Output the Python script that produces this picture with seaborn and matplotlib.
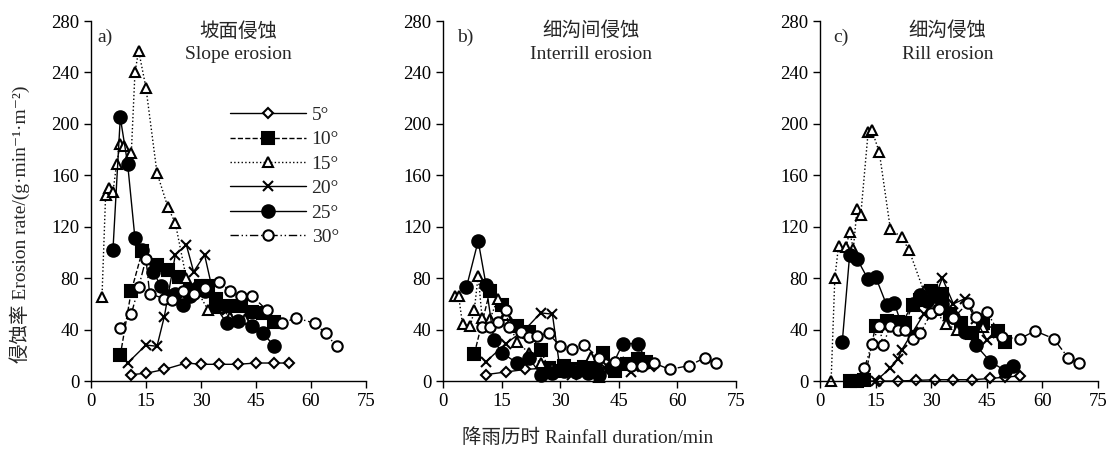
import seaborn as sns
import matplotlib
matplotlib.use("Agg")
import matplotlib.pyplot as plt

# slope gradients (legend labels)
slopes = ["5°", "10°", "15°", "20°", "25°", "30°"]

# a) slope erosion
a_t05 = [11, 15, 20, 26, 30, 35, 40, 45, 50, 54]
a_v05 = [5, 6, 9, 14, 13, 13, 13, 14, 14, 14]
a_t10 = [8, 11, 14, 18, 21, 24, 27, 30, 32, 34, 37, 41, 44, 47, 50]
a_v10 = [20, 70, 101, 90, 86, 81, 70, 74, 74, 64, 58, 58, 54, 53, 46]
a_t15 = [3, 4, 5, 6, 7, 8, 9, 11, 12, 13, 15, 18, 21, 23, 26, 29, 32, 35, 38, 42]
a_v15 = [65, 145, 150, 147, 169, 184, 183, 177, 240, 257, 228, 162, 135, 123, 80, 70, 55, 57, 50, 48]
a_t20 = [10, 15, 18, 20, 23, 26, 28, 31, 34, 37]
a_v20 = [14, 28, 27, 50, 98, 106, 85, 98, 60, 55]
a_t25 = [6, 8, 10, 12, 14, 17, 19, 21, 23, 25, 27, 29, 31, 34, 37, 40, 44, 47, 50]
a_v25 = [102, 205, 169, 111, 102, 85, 74, 66, 68, 59, 66, 72, 70, 58, 45, 47, 43, 37, 27]
a_t30 = [8, 11, 13, 15, 16, 20, 22, 25, 28, 31, 35, 38, 41, 44, 48, 52, 56, 61, 64, 67]
a_v30 = [41, 52, 73, 95, 68, 64, 63, 70, 68, 72, 77, 70, 66, 66, 55, 45, 49, 45, 37, 27]

# b) interrill erosion
b_t05 = [11, 16, 21, 26, 30, 35, 40, 45, 50, 54]
b_v05 = [5, 7, 9, 10, 10, 10, 11, 12, 12, 12]
b_t10 = [8, 12, 15, 19, 22, 25, 27, 29, 31, 33, 36, 39, 41, 44, 47, 50, 52]
b_v10 = [21, 70, 59, 43, 38, 24, 10, 8, 12, 9, 11, 13, 22, 8, 13, 17, 15]
b_t15 = [3, 4, 5, 7, 8, 9, 10, 12, 14, 16, 19, 22, 25, 28, 31, 34, 38, 40]
b_v15 = [66, 66, 44, 43, 55, 82, 49, 48, 64, 51, 30, 22, 14, 10, 8, 10, 19, 3]
b_t20 = [11, 16, 21, 25, 28, 30, 33, 36, 39, 42, 45, 48]
b_v20 = [15, 29, 40, 53, 52, 8, 5, 10, 8, 12, 15, 7]
b_t25 = [6, 9, 11, 13, 15, 19, 22, 25, 28, 31, 34, 37, 40, 43, 46, 50, 52]
b_v25 = [73, 109, 75, 32, 22, 14, 18, 5, 6, 8, 7, 6, 5, 10, 29, 29, 15]
b_t30 = [10, 12, 14, 16, 17, 20, 22, 24, 27, 30, 33, 36, 40, 44, 48, 51, 54, 58, 63, 67, 70]
b_v30 = [42, 42, 46, 55, 42, 38, 34, 35, 37, 27, 25, 28, 18, 15, 12, 12, 14, 9, 12, 18, 14]

# c) rill erosion
c_t05 = [11, 16, 21, 26, 31, 36, 41, 46, 50, 54]
c_v05 = [0, 0, 0, 0.5, 1, 1, 1, 2, 3, 4]
c_t10 = [8, 10, 12, 15, 18, 21, 23, 25, 27, 30, 33, 35, 38, 41, 44, 48, 50]
c_v10 = [0, 0, 1, 43, 47, 46, 45, 59, 63, 70, 68, 52, 45, 37, 45, 39, 30]
c_t15 = [3, 4, 5, 7, 8, 9, 10, 11, 13, 14, 16, 19, 22, 24, 28, 31, 34, 37, 40, 44]
c_v15 = [0, 80, 105, 104, 116, 103, 134, 129, 194, 195, 178, 118, 112, 102, 70, 55, 44, 40, 38, 42]
c_t20 = [15, 19, 21, 22, 25, 28, 31, 33, 36, 39, 42, 45, 48]
c_v20 = [0, 10, 17, 24, 38, 52, 65, 80, 60, 64, 48, 32, 37]
c_t25 = [6, 8, 10, 13, 15, 18, 20, 22, 25, 27, 29, 31, 33, 36, 39, 42, 46, 50, 52]
c_v25 = [30, 98, 95, 79, 81, 59, 61, 44, 60, 67, 62, 66, 60, 50, 38, 28, 15, 8, 12]
c_t30 = [12, 14, 16, 17, 19, 21, 23, 25, 27, 30, 32, 36, 40, 42, 45, 49, 54, 58, 63, 67, 70]
c_v30 = [10, 29, 43, 28, 43, 40, 40, 33, 37, 53, 56, 49, 61, 50, 54, 34, 33, 39, 33, 18, 14]

panels = [
    ("a)", "坡面侵蚀", "Slope erosion",
     [(a_t05, a_v05), (a_t10, a_v10), (a_t15, a_v15), (a_t20, a_v20), (a_t25, a_v25), (a_t30, a_v30)]),
    ("b)", "细沟间侵蚀", "Interrill erosion",
     [(b_t05, b_v05), (b_t10, b_v10), (b_t15, b_v15), (b_t20, b_v20), (b_t25, b_v25), (b_t30, b_v30)]),
    ("c)", "细沟侵蚀", "Rill erosion",
     [(c_t05, c_v05), (c_t10, c_v10), (c_t15, c_v15), (c_t20, c_v20), (c_t25, c_v25), (c_t30, c_v30)]),
]

sns.set_theme(style="ticks")
plt.rcParams['font.family'] = ['Liberation Serif', 'Noto Sans CJK SC', 'DejaVu Sans']

styles = [
    dict(marker='D', markersize=5, markerfacecolor='white', linestyle='-'),
    dict(marker='s', markersize=8, markerfacecolor='black', linestyle='--'),
    dict(marker='^', markersize=7, markerfacecolor='white', linestyle=':'),
    dict(marker='x', markersize=7.5, linestyle='-'),
    dict(marker='o', markersize=9, markerfacecolor='black', linestyle='-'),
    dict(marker='o', markersize=7.5, markerfacecolor='white', linestyle=(0, (6, 2, 1, 2, 1, 2))),
]

fig = plt.figure(figsize=(11.12, 4.49), dpi=100)
boxes = [(0.0818, 0.2473), (0.3984, 0.2635), (0.7374, 0.25)]
title_x = [0.535, 0.504, 0.459]
tag_x = [0.025, 0.048, 0.047]

for i, (tag, zh, en, series) in enumerate(panels):
    left, width = boxes[i]
    ax = fig.add_axes([left, 0.1514, width, 0.8018])
    for (t, v), lab, st in zip(series, slopes, styles):
        sns.lineplot(x=t, y=v, ax=ax, color='black', linewidth=1,
                     markeredgecolor='black', markeredgewidth=1.5,
                     sort=False, estimator=None, label=lab, clip_on=False, **st)
    ax.set_xlim(0, 75)
    ax.set_ylim(0, 280)
    ax.set_xticks(range(0, 76, 15))
    ax.set_yticks(range(0, 281, 40))
    ax.tick_params(labelsize=13.5, direction='out', length=5, width=1, colors='black')
    for s in ['left', 'bottom']:
        ax.spines[s].set_color('black')
        ax.spines[s].set_linewidth(1)
    sns.despine(ax=ax)
    ax.set_xlabel('')
    ax.set_ylabel('')
    ax.text(tag_x[i], 0.955, tag, transform=ax.transAxes, fontsize=14, va='center', ha='left')
    ax.text(title_x[i], 0.972, zh, transform=ax.transAxes, fontsize=14, va='center', ha='center')
    ax.text(title_x[i], 0.908, en, transform=ax.transAxes, fontsize=14, va='center', ha='center')
    if i == 0:
        ax.legend(loc='upper left', bbox_to_anchor=(0.47, 0.79), frameon=False, fontsize=14,
                  handlelength=3.9, handletextpad=0.3, labelspacing=0.35, borderpad=0)
    else:
        leg = ax.get_legend()
        if leg is not None:
            leg.remove()

fig.text(0.528, 0.025, '降雨历时 Rainfall duration/min', ha='center', va='center', fontsize=14)
fig.text(0.018, 0.5, '侵蚀率 Erosion rate/(g·min⁻¹·m⁻²)', rotation=90,
         ha='center', va='center', fontsize=14)

fig.savefig('out.png', dpi=100, facecolor='white')
